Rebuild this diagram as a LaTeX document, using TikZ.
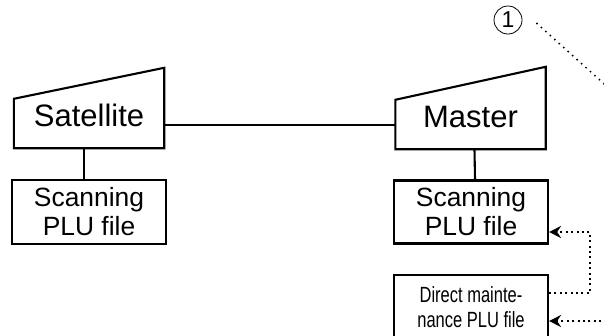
\documentclass[tikz,border=0pt]{standalone}
\usepackage{fontspec}
\setmainfont{Liberation Sans}
\newfontfamily\narrowsans[FakeStretch=0.75]{Liberation Sans}
\usetikzlibrary{arrows.meta}

\begin{document}
\begin{tikzpicture}[x=1pt, y=-1pt,
  term/.style={minimum width=150pt, minimum height=49pt, inner sep=0pt,
    font=\fontsize{31}{36}\selectfont, text height=22pt, text depth=16pt},
  plufile/.style={draw, line width=2.1pt, minimum width=154pt, minimum height=63pt,
    inner sep=0pt, align=center, font=\fontsize{26.4}{29}\selectfont},
  link/.style={line width=2.1pt},
  feed/.style={line width=2pt, dash pattern=on 2pt off 3.4pt,
    -{Stealth[length=12pt,width=12pt]}},
  lead/.style={line width=1.5pt, dash pattern=on 1.5pt off 4.5pt}]
\useasboundingbox (0,0) rectangle (604,335);
\clip (0,0) rectangle (604,335);
% terminals
\node[term] (sat) at (89,123.5) {Satellite};
\node[term] (mas) at (470.5,124.5) {Master};
\draw[link, line join=miter] (sat.south west) -- (sat.north west) -- ([yshift=31pt]sat.north east) -- (sat.south east) -- cycle;
\draw[link, line join=miter] (mas.south west) -- (mas.north west) -- ([yshift=33pt]mas.north east) -- (mas.south east) -- cycle;
% PLU files
\node[plufile, minimum height=64pt] (satscan) at (89,212) {Scanning\\PLU file};
\node[plufile] (masscan) at (471,212) {Scanning\\PLU file};
\node[plufile, minimum height=65pt, font=\narrowsans\fontsize{22}{25}\selectfont] (direct) at (471,307.5) {Direct mainte-\\nance PLU file};
% lines
\draw[link] ([yshift=-1.5pt]sat.east) -- ([yshift=-1.5pt]sat.east -| mas.west);
\draw[link] ([xshift=-5pt]sat.south) -- ([xshift=-5pt]satscan.north);
\draw[link] ([xshift=4pt]mas.south) -- ([xshift=4pt]masscan.north);
% feeds
\coordinate (turn) at (590,232);
\coordinate (inlet) at (612,321);
\draw[feed] ([yshift=14.5pt]direct.east) -| (turn) -- ([yshift=-20pt]masscan.east);
\draw[feed] (inlet) -- ([yshift=-13.5pt]direct.east);
% callout
\node[draw, circle, line width=0.8pt, minimum size=28pt, inner sep=0pt,
  font=\fontsize{23}{23}\selectfont] (one) at (508,20) {1};
\coordinate (far) at (622,100);
\draw[lead] ([shift={(14pt,-3pt)}]one.east) -- (far);
\end{tikzpicture}
\end{document}
